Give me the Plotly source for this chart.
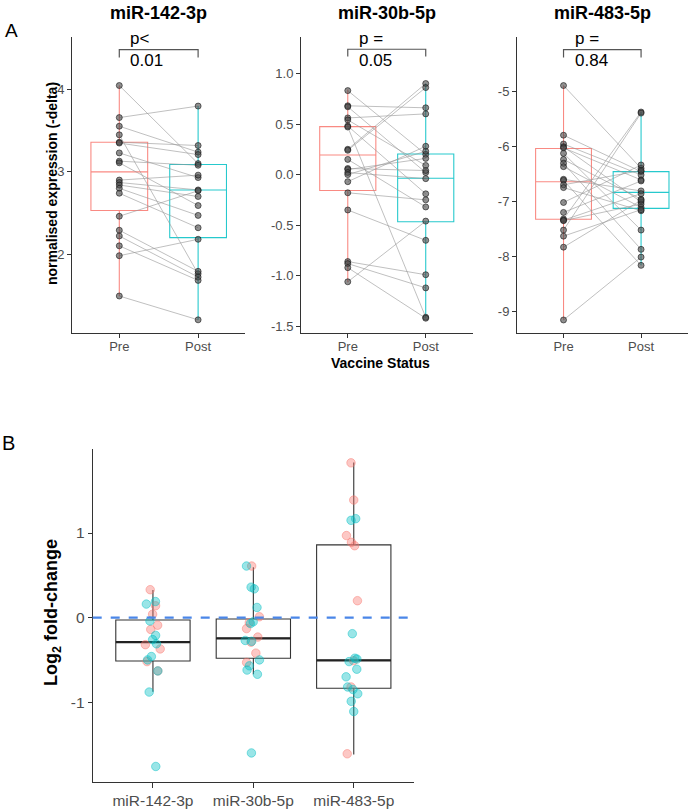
import plotly.graph_objects as go

OFF = 0
W, H = 689, 811
FONT = "Liberation Sans, Arial, sans-serif"

# ---------------- data ----------------
groups = ["Pre", "Post"]
mirnas = ["miR-142-3p", "miR-30b-5p", "miR-483-5p"]
p_labels = ["p&lt;<br>0.01", "p =<br>0.05", "p =<br>0.84"]

mir142_pre = [4.05, 3.66, 3.555, 3.45, 3.36, 3.35, 3.23, 3.13, 3.11, 2.90, 2.87, 2.84, 2.80, 2.74, 2.46, 2.29, 2.22, 2.10, 1.98, 1.49]
mir142_post = [3.10, 3.80, 3.24, 1.76, 3.32, 3.21, 2.93, 3.08, 2.59, 2.96, 2.78, 2.70, 2.47, 2.32, 2.77, 1.79, 1.72, 1.68, 2.18, 1.20]

mir30b_pre = [0.83, 0.68, 0.67, 0.56, 0.54, 0.48, 0.47, 0.25, 0.24, 0.15, 0.06, 0.05, 0.02, 0.00, -0.07, -0.18, -0.35, -0.86, -0.88, -0.92, -1.06]
mir30b_post = [0.20, 0.66, 0.02, 0.60, 0.09, -0.19, -1.41, 0.90, 0.86, -0.32, 0.04, 0.16, -0.04, 0.23, 0.28, -0.25, -0.65, -0.99, -1.12, -1.42, -0.46]

mir483_pre = [-4.90, -5.80, -5.96, -6.01, -6.03, -6.13, -6.24, -6.31, -6.37, -6.60, -6.62, -6.70, -6.75, -7.02, -7.20, -7.32, -7.34, -7.35, -7.52, -7.63, -7.83, -9.15]
mir483_post = [-6.40, -6.46, -6.52, -7.01, -6.61, -7.52, -6.96, -7.87, -7.11, -6.81, -8.16, -6.44, -7.17, -6.34, -6.63, -5.38, -6.86, -7.05, -5.40, -7.15, -6.98, -8.01]

# box statistics (pre, post) per miRNA: q1, median, q3, lower whisker, upper whisker
boxA_q1 = [[2.53, 2.20], [-0.157, -0.467], [-7.325, -7.127]]
boxA_med = [[3.00, 2.78], [0.193, -0.036], [-6.645, -6.837]]
boxA_q3 = [[3.36, 3.09], [0.474, 0.203], [-6.04, -6.46]]
boxA_lo = [[1.49, 1.20], [-1.065, -1.415], [-9.145, -8.16]]
boxA_hi = [[4.05, 3.80], [0.84, 0.90], [-4.90, -5.38]]

# significance bracket heights (top, end drop)
bracket_top = [4.486, 1.239, -4.25]
bracket_end = [4.39, 1.167, -4.39]

ytick_vals_A = [[2, 3, 4], [-1.5, -1.0, -0.5, 0.0, 0.5, 1.0], [-9, -8, -7, -6, -5]]
ytick_text_A = [["2", "3", "4"], ["-1.5", "-1.0", "-0.5", "0.0", "0.5", "1.0"], ["-9", "-8", "-7", "-6", "-5"]]
yrange_A = [[1.04, 4.64], [-1.566, 1.36], [-9.386, -4.02]]

# Panel B: log2 fold-change, two colour groups
lfc_pink = [
    [0.33, 0.14, 0.04, -0.09, -0.14, -0.32, -0.37, -0.52, -0.63],
    [0.61, 0.01, -0.06, -0.13, -0.23, -0.29, -0.42, -0.53],
    [1.83, 1.39, 0.97, 0.89, 0.85, 0.20, -0.51, -0.82, -1.61],
]
lfc_teal = [
    [0.19, 0.16, -0.04, -0.21, -0.26, -0.31, -0.46, -0.50, -0.63, -0.88, -1.76],
    [0.61, 0.36, 0.34, 0.12, -0.05, -0.07, -0.27, -0.28, -0.50, -0.57, -0.62, -0.67, -1.60],
    [1.17, 1.15, -0.19, -0.48, -0.49, -0.52, -0.61, -0.70, -0.82, -0.85, -0.90, -0.99, -1.11],
]
boxB_q1 = [-0.513, -0.48, -0.836]
boxB_med = [-0.29, -0.245, -0.505]
boxB_q3 = [-0.028, -0.016, 0.86]
boxB_lo = [-0.876, -0.67, -1.617]
boxB_hi = [0.327, 0.596, 1.834]
ytick_vals_B = [-1, 0, 1]
ytick_text_B = ["-1", "0", "1"]
ref_line = 0

# ---------------- helpers (reference-pixel -> paper fraction) ----------------
def fx(px):
    return (px - OFF) / W

def fy(py):
    return 1 - (py - OFF) / H

PRE_COL = "rgba(248,118,109,0.85)"
POST_COL = "rgba(0,191,196,0.85)"
PINK = "248,118,109"
TEAL = "0,191,196"

fig = go.Figure()

pairs = [(mir142_pre, mir142_post), (mir30b_pre, mir30b_post), (mir483_pre, mir483_post)]

for i in range(3):
    xa = "x" if i == 0 else f"x{i+1}"
    ya = "y" if i == 0 else f"y{i+1}"
    for g, col in enumerate([PRE_COL, POST_COL]):
        fig.add_trace(go.Box(
            x=[groups[g]], q1=[boxA_q1[i][g]], median=[boxA_med[i][g]], q3=[boxA_q3[i][g]],
            lowerfence=[boxA_lo[i][g]], upperfence=[boxA_hi[i][g]],
            width=0.72, whiskerwidth=0, boxpoints=False,
            line=dict(color=col, width=1.1), fillcolor="rgba(255,255,255,0)",
            xaxis=xa, yaxis=ya, showlegend=False, hoverinfo="skip"))
    pre, post = pairs[i]
    lx, ly = [], []
    for a, b in zip(pre, post):
        lx += ["Pre", "Post", None]
        ly += [a, b, None]
    fig.add_trace(go.Scatter(x=lx, y=ly, mode="lines",
                             line=dict(color="rgba(150,150,150,0.75)", width=0.8),
                             xaxis=xa, yaxis=ya, showlegend=False, hoverinfo="skip"))
    fig.add_trace(go.Scatter(x=["Pre"] * len(pre) + ["Post"] * len(post), y=list(pre) + list(post),
                             mode="markers",
                             marker=dict(size=6, color="rgba(70,70,70,0.6)",
                                         line=dict(color="rgba(20,20,20,0.75)", width=0.8)),
                             xaxis=xa, yaxis=ya, showlegend=False, hoverinfo="skip"))
    fig.add_trace(go.Scatter(x=["Pre", "Pre", "Post", "Post"],
                             y=[bracket_end[i], bracket_top[i], bracket_top[i], bracket_end[i]],
                             mode="lines", line=dict(color="#555555", width=1.2),
                             xaxis=xa, yaxis=ya, showlegend=False, hoverinfo="skip"))

# Panel B
fig.add_trace(go.Box(
    x=mirnas, q1=boxB_q1, median=boxB_med, q3=boxB_q3, lowerfence=boxB_lo, upperfence=boxB_hi,
    width=0.74, whiskerwidth=0, boxpoints=False,
    line=dict(color="#333333", width=1.1), fillcolor="rgba(255,255,255,0)",
    xaxis="x4", yaxis="y4", showlegend=False, hoverinfo="skip"))
fig.add_trace(go.Box(
    x=mirnas, q1=boxB_med, median=boxB_med, q3=boxB_med, lowerfence=boxB_med, upperfence=boxB_med,
    width=0.74, whiskerwidth=0, boxpoints=False,
    line=dict(color="#222222", width=2.2), fillcolor="rgba(255,255,255,0)",
    xaxis="x4", yaxis="y4", showlegend=False, hoverinfo="skip"))
for vals_list, rgb in [(lfc_pink, PINK), (lfc_teal, TEAL)]:
    xs, ys = [], []
    for k, vals in enumerate(vals_list):
        xs += [mirnas[k]] * len(vals)
        ys += vals
    fig.add_trace(go.Box(
        x=xs, y=ys, boxpoints="all", jitter=0.25, pointpos=0, width=0.75,
        line=dict(color="rgba(0,0,0,0)", width=0), fillcolor="rgba(0,0,0,0)",
        marker=dict(size=8.5, color=f"rgba({rgb},0.4)", line=dict(color=f"rgba({rgb},0.45)", width=1)),
        xaxis="x4", yaxis="y4", showlegend=False, hoverinfo="skip"))

axis_common = dict(showline=True, linecolor="#333333", linewidth=1, ticks="outside", ticklen=4,
                   tickcolor="#333333", tickwidth=1, showgrid=False, zeroline=False,
                   tickfont=dict(family=FONT, size=13, color="#4D4D4D"), fixedrange=True)

xdomA = [[72, 245.4], [301, 472.5], [517, 687.6]]
layout = dict(width=W, height=H, margin=dict(l=0, r=0, t=0, b=0),
              plot_bgcolor="white", paper_bgcolor="white", boxmode="overlay",
              showlegend=False, font=dict(family=FONT))
for i in range(3):
    sx = "" if i == 0 else str(i + 1)
    layout["xaxis" + sx] = dict(axis_common, domain=[fx(xdomA[i][0]), min(1, fx(xdomA[i][1]))],
                                anchor="y" + sx, type="category", categoryorder="array",
                                categoryarray=groups, range=[-0.6, 1.6], ticklabelstandoff=-3)
    layout["yaxis" + sx] = dict(axis_common, domain=[fy(333), fy(37)], anchor="x" + sx,
                                range=yrange_A[i], tickvals=ytick_vals_A[i], ticktext=ytick_text_A[i])
layout["xaxis4"] = dict(axis_common, domain=[fx(92.7), fx(414)], anchor="y4", type="category",
                        categoryorder="array", categoryarray=mirnas, range=[-0.6, 2.6], ticklen=5,
                        tickfont=dict(family=FONT, size=15.5, color="#4D4D4D"))
layout["yaxis4"] = dict(axis_common, domain=[fy(781.7), fy(449.3)], anchor="x4", range=[-1.94, 1.99],
                        tickvals=ytick_vals_B, ticktext=ytick_text_B,
                        tickfont=dict(family=FONT, size=15.5, color="#4D4D4D"))

fig.update_layout(**layout)

fig.add_shape(type="line", xref="x4 domain", yref="y4", x0=0, x1=1, y0=ref_line, y1=ref_line,
              line=dict(color="#4A86E8", width=2.2, dash="dash"), layer="above")

ann = []
title_x = [158.7, 386.7, 602.3]
for i in range(3):
    ann.append(dict(text=f"<b>{mirnas[i]}</b>", x=fx(title_x[i]), y=fy(12.5), xref="paper", yref="paper",
                    showarrow=False, xanchor="center", yanchor="middle",
                    font=dict(family=FONT, size=18, color="black")))
    sx = "" if i == 0 else str(i + 1)
    ann.append(dict(text=p_labels[i], x="Pre", y=bracket_top[i], xref="x" + sx, yref="y" + sx,
                    xshift=9, showarrow=False, xanchor="left", yanchor="middle", align="left",
                    font=dict(family=FONT, size=17, color="black")))
ann.append(dict(text="A", x=fx(3), y=fy(30), xref="paper", yref="paper", showarrow=False,
                xanchor="left", yanchor="middle", font=dict(family=FONT, size=19, color="black")))
ann.append(dict(text="B", x=0, y=fy(443), xref="paper", yref="paper", showarrow=False,
                xanchor="left", yanchor="middle", font=dict(family=FONT, size=20, color="black")))
ann.append(dict(text="<b>normalised expression (-delta)</b>", x=fx(52), y=fy(184), xref="paper", yref="paper",
                showarrow=False, textangle=-90, xanchor="center", yanchor="middle",
                font=dict(family=FONT, size=14, color="black")))
ann.append(dict(text="<b>Vaccine Status</b>", x=fx(380), y=fy(363), xref="paper", yref="paper",
                showarrow=False, xanchor="center", yanchor="middle",
                font=dict(family=FONT, size=14, color="black")))
ann.append(dict(text="<b>Log<sub>2</sub> fold-change</b>", x=fx(52), y=fy(613), xref="paper", yref="paper",
                showarrow=False, textangle=-90, xanchor="center", yanchor="middle",
                font=dict(family=FONT, size=18, color="black")))
fig.update_layout(annotations=ann)

# remove the default 8px page margin so the figure fills the window exactly; hide the modebar
fig.write_html("out.html", config={"displayModeBar": False},
               post_script="document.body.style.margin='0';document.body.style.overflow='hidden';")
